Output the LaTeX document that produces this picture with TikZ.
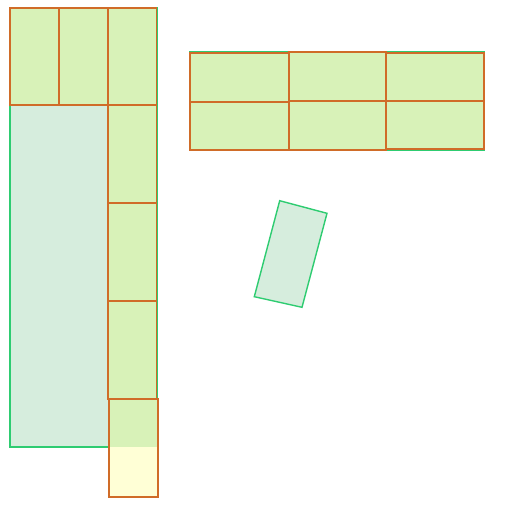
\documentclass[tikz,border=0pt]{standalone}
\usepackage{tikz}
\usetikzlibrary{positioning}

\definecolor{binline}{RGB}{46,204,113}
\definecolor{binfill}{RGB}{214,237,221}
\definecolor{boxline}{RGB}{208,108,40}
\definecolor{boxfill}{RGB}{216,242,184}
\definecolor{boxfree}{RGB}{255,255,214}

\begin{document}
\begin{tikzpicture}
  [
  x=0.02cm, y=-0.02cm, line width=0.8pt, line join=miter,
  bin/.style={draw=binline, fill=binfill},
  box/.style={draw=boxline, fill=boxfill}
  ]
\useasboundingbox (0,0) rectangle (510,504);

% left bin
\draw[bin] (10,8) rectangle (157.5,447);
\foreach \x in {10,59} {
  \draw[box] (\x,8) rectangle ++(49,97);
}
\foreach \y in {8,105,203,301} {
  \draw[box] (108,\y) rectangle ++(48.5,98);
}
% last box sticks out of the bin
\fill[boxfree] (109,447) rectangle (158,497);
\fill[boxfill] (109,399) rectangle (158,447);
\draw[boxline] (109,399) rectangle (158,497);

% right bin
\draw[bin] (190,51.5) rectangle (484.5,150.5);
\draw[box] (190,53) rectangle (289,102);
\draw[box] (289,52) rectangle (386,101);
\draw[box] (386,53) rectangle (484,101);
\draw[box] (190,102) rectangle (289,150);
\draw[box] (289,101) rectangle (386,150);
\draw[box] (386,101) rectangle (484,149);

% tilted bin
\draw[bin] (279.7,200.7) -- (327,213.3) -- (302,307.3) -- (254.3,296.7) -- cycle;

\end{tikzpicture}
\end{document}
